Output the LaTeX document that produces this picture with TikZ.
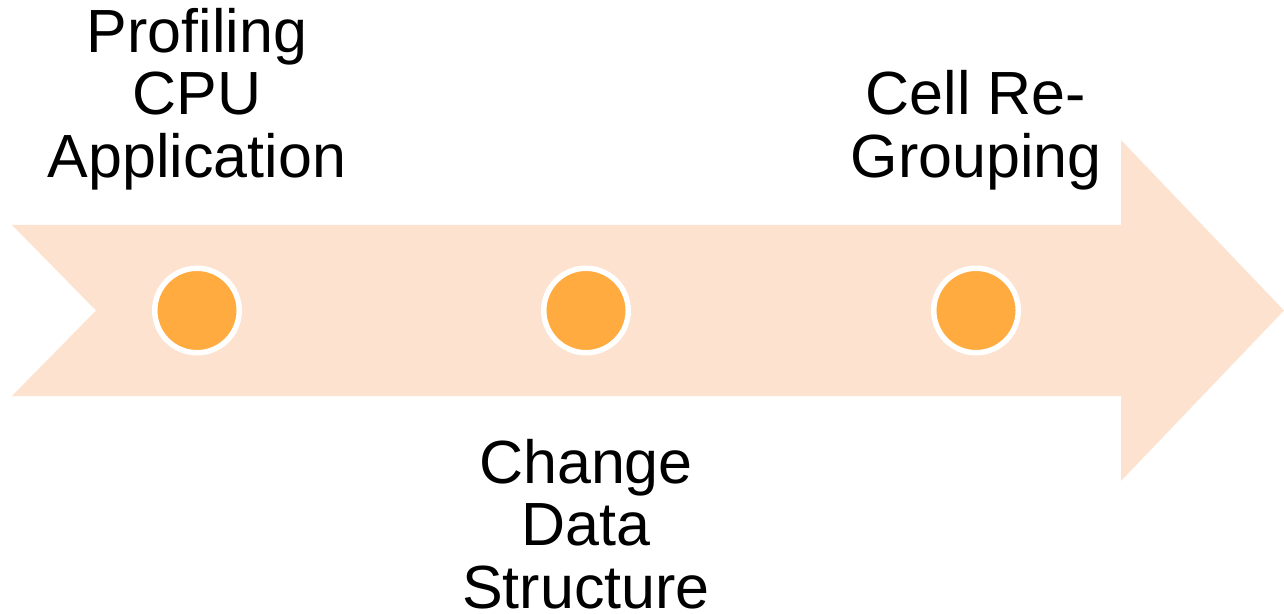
\documentclass[tikz,border=0pt]{standalone}
\usepackage{fontspec}
\setmainfont{Liberation Sans}
\usepackage{tikz}
\usetikzlibrary{positioning}
\definecolor{arrowpeach}{RGB}{253, 226, 207}
\definecolor{dotorange}{RGB}{255, 171, 64}

\tikzset{
  milestone/.style={circle, fill=dotorange, draw=white, line width=3.1pt, minimum size=1.69cm, inner sep=0pt},
  steplabel/.style={align=center, inner sep=0pt, font=\fontsize{34.7}{35.6}\selectfont}
}

\begin{document}
\begin{tikzpicture}
        \useasboundingbox (0,0) rectangle (25.68,12.26);
        % timeline arrow with notched tail
        \fill[arrowpeach] (0.24,7.76) -- (22.42,7.76) -- (22.42,9.46) -- (25.68,6.05)
            -- (22.42,2.64) -- (22.42,4.34) -- (0.24,4.34) -- (1.92,6.05) -- cycle;
        \node[milestone] (m1) at (3.94,6.05) {};
        \node[milestone] (m2) at (11.72,6.05) {};
        \node[milestone] (m3) at (19.52,6.05) {};
        \node[steplabel, above=1.5cm of m1] (l1) {Profiling\\CPU\\Application};
        \node[steplabel, below=1.66cm of m2] (l2) {Change\\Data\\Structure};
        \node[steplabel, above=1.5cm of m3] (l3) {Cell Re-\\Grouping};
    \end{tikzpicture}
\end{document}
